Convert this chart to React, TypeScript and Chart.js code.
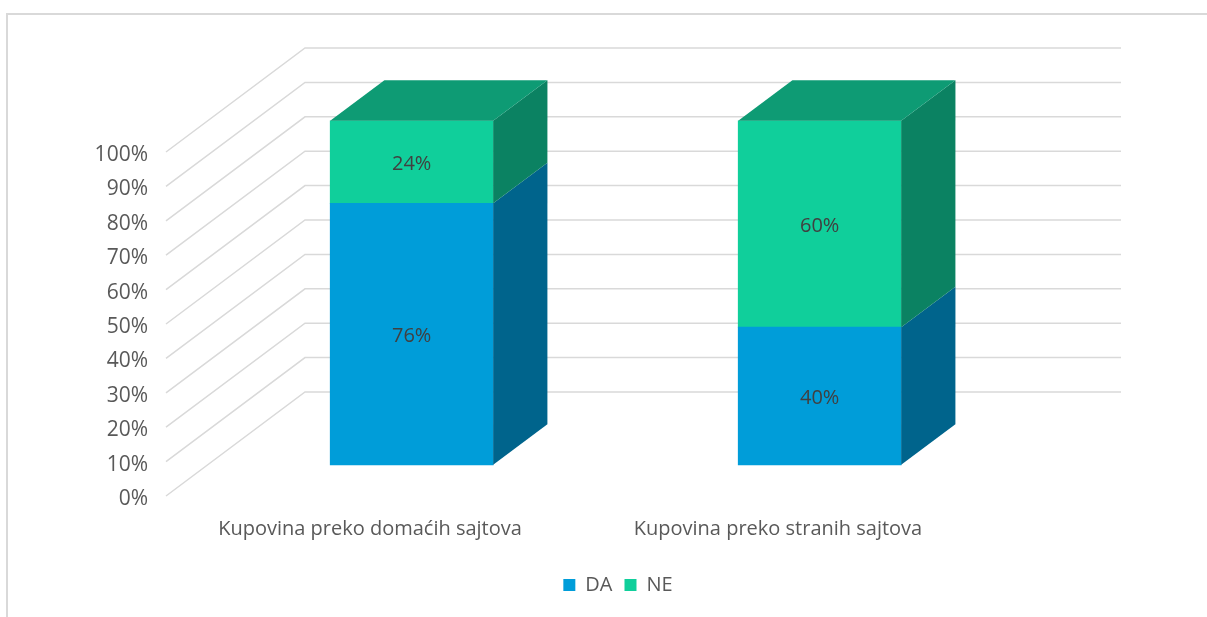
import React, { useEffect, useRef } from "react";
import { Chart, registerables } from "chart.js";

Chart.register(...registerables);

// ---- data ----
const categories = ["Kupovina preko domaćih sajtova", "Kupovina preko stranih sajtova"];
const daValues = [76, 40];
const neValues = [24, 60];
const seriesNames = ["DA", "NE"];
const yTickValues = [0, 10, 20, 30, 40, 50, 60, 70, 80, 90, 100];

// ---- styling / geometry ----
const W = 1207;
const H = 617;
const AREA = { left: 166, right: 982, top: 48, bottom: 496 };
const PX_PER_100 = 344; // front-plane pixels for 100 %
const DEPTH = { dx: 139, dy: 104 }; // perspective depth of floor
const BAR_FRONT = 0.3; // depth fraction of bar front
const BAR_BACK = 0.69; // depth fraction of bar back
const BAR_W = 163;
const X_AXIS_H = 67;
const PAD_LEFT = 29;
const PAD_BOTTOM = 12;

const frontColors = ["#009DD9", "#10CF9B"];
const sideColors = ["#00648C", "#0B8262"];
const topColors = ["#007BAA", "#0E9B74"];
const gridColor = "#D9D9D9";
const textColor = "#595959";
const labelColor = "#404040";
const FONT = "'Open Sans', sans-serif";

const yMax = (100 * (AREA.bottom - AREA.top)) / PX_PER_100;
const ybShift = (BAR_FRONT * DEPTH.dy * 100) / PX_PER_100;
const catW = (AREA.right - AREA.left) / categories.length;
const xbMin = -0.5 - (BAR_FRONT * DEPTH.dx) / catW;

const threeD = {
  id: "threeD",
  beforeDraw(chart: any) {
    const ctx = chart.ctx;
    ctx.save();
    ctx.strokeStyle = gridColor;
    ctx.lineWidth = 2;
    ctx.strokeRect(7, 14, W + 20, H + 20);
    ctx.restore();
  },
  beforeDatasetsDraw(chart: any) {
    const ctx = chart.ctx;
    const y = chart.scales.y;
    const ca = chart.chartArea;
    ctx.save();
    ctx.strokeStyle = gridColor;
    ctx.lineWidth = 1.5;
    yTickValues.forEach((v) => {
      const py = y.getPixelForValue(v);
      ctx.beginPath();
      ctx.moveTo(ca.left, py);
      ctx.lineTo(ca.left + DEPTH.dx, py - DEPTH.dy);
      ctx.lineTo(ca.right + DEPTH.dx, py - DEPTH.dy);
      ctx.stroke();
    });
    ctx.restore();
  },
  afterDatasetsDraw(chart: any) {
    const ctx = chart.ctx;
    const dx = (BAR_BACK - BAR_FRONT) * DEPTH.dx;
    const dy = (BAR_BACK - BAR_FRONT) * DEPTH.dy;
    const n = chart.data.datasets.length;
    ctx.save();
    for (let d = 0; d < n; d++) {
      const meta = chart.getDatasetMeta(d);
      meta.data.forEach((el: any) => {
        const { x, y, base, width } = el.getProps(["x", "y", "base", "width"], true);
        const l = x - width / 2;
        const r = x + width / 2;
        ctx.fillStyle = sideColors[d];
        ctx.beginPath();
        ctx.moveTo(r, y);
        ctx.lineTo(r + dx, y - dy);
        ctx.lineTo(r + dx, base - dy);
        ctx.lineTo(r, base);
        ctx.closePath();
        ctx.fill();
        if (d === n - 1) {
          ctx.fillStyle = topColors[d];
          ctx.beginPath();
          ctx.moveTo(l, y);
          ctx.lineTo(l + dx, y - dy);
          ctx.lineTo(r + dx, y - dy);
          ctx.lineTo(r, y);
          ctx.closePath();
          ctx.fill();
        }
      });
    }
    ctx.fillStyle = labelColor;
    ctx.font = `20px ${FONT}`;
    ctx.textAlign = "center";
    ctx.textBaseline = "middle";
    for (let d = 0; d < n; d++) {
      const meta = chart.getDatasetMeta(d);
      const vals = chart.data.datasets[d].data;
      meta.data.forEach((el: any, i: number) => {
        const { x, y, base } = el.getProps(["x", "y", "base"], true);
        ctx.fillText(vals[i].y + "%", x, (y + base) / 2 + 2);
      });
    }
    ctx.restore();
  },
};

export default function App() {
  const ref = useRef<HTMLCanvasElement>(null);
  useEffect(() => {
    if (!ref.current) return;
    const chart = new Chart(ref.current, {
      type: "bar",
      data: {
        labels: categories,
        datasets: [
          {
            label: seriesNames[0],
            data: daValues.map((v, i) => ({ x: i, y: v })),
            backgroundColor: frontColors[0],
            borderWidth: 0,
            barThickness: BAR_W,
            xAxisID: "xb",
            yAxisID: "yb",
          },
          {
            label: seriesNames[1],
            data: neValues.map((v, i) => ({ x: i, y: v })),
            backgroundColor: frontColors[1],
            borderWidth: 0,
            barThickness: BAR_W,
            xAxisID: "xb",
            yAxisID: "yb",
          },
        ],
      },
      plugins: [threeD],
      options: {
        responsive: false,
        animation: false,
        events: [],
        layout: {
          padding: { left: PAD_LEFT, right: 0, top: AREA.top, bottom: PAD_BOTTOM },
        },
        plugins: {
          tooltip: { enabled: false },
          legend: {
            position: "bottom",
            labels: {
              boxWidth: 12,
              boxHeight: 12,
              padding: 12,
              color: textColor,
              font: { family: FONT, size: 20 },
            },
          },
        },
        scales: {
          x: {
            type: "category",
            position: "bottom",
            offset: true,
            grid: { display: false, drawTicks: false },
            border: { display: false },
            ticks: {
              color: textColor,
              font: { family: FONT, size: 20 },
              padding: 21,
              maxRotation: 0,
            },
            afterFit(s: any) {
              s.height = X_AXIS_H;
            },
          },
          y: {
            type: "linear",
            position: "left",
            min: 0,
            max: yMax,
            grid: { display: false, drawTicks: false },
            border: { display: false },
            afterBuildTicks(s: any) {
              s.ticks = yTickValues.map((v) => ({ value: v }));
            },
            ticks: {
              color: textColor,
              font: { family: FONT, size: 21 },
              padding: AREA.left - 148,
              labelOffset: 3,
              callback: (v: any) => v + "%",
            },
            afterFit(s: any) {
              s.width = AREA.left - PAD_LEFT;
            },
          },
          xb: {
            type: "linear",
            display: false,
            stacked: true,
            offset: false,
            bounds: "data",
            min: xbMin,
            max: xbMin + categories.length,
          },
          yb: {
            type: "linear",
            position: "right",
            display: true,
            stacked: true,
            bounds: "data",
            min: -ybShift,
            max: yMax - ybShift,
            grid: { display: false, drawTicks: false },
            border: { display: false },
            ticks: { display: false },
            afterFit(s: any) {
              s.width = W - AREA.right;
            },
          },
        },
      },
    });
    return () => chart.destroy();
  }, []);
  return (
    <div style={{ position: "fixed", left: 0, top: 0, width: W, height: H, background: "#fff" }}>
      <canvas ref={ref} width={W} height={H} />
    </div>
  );
}
